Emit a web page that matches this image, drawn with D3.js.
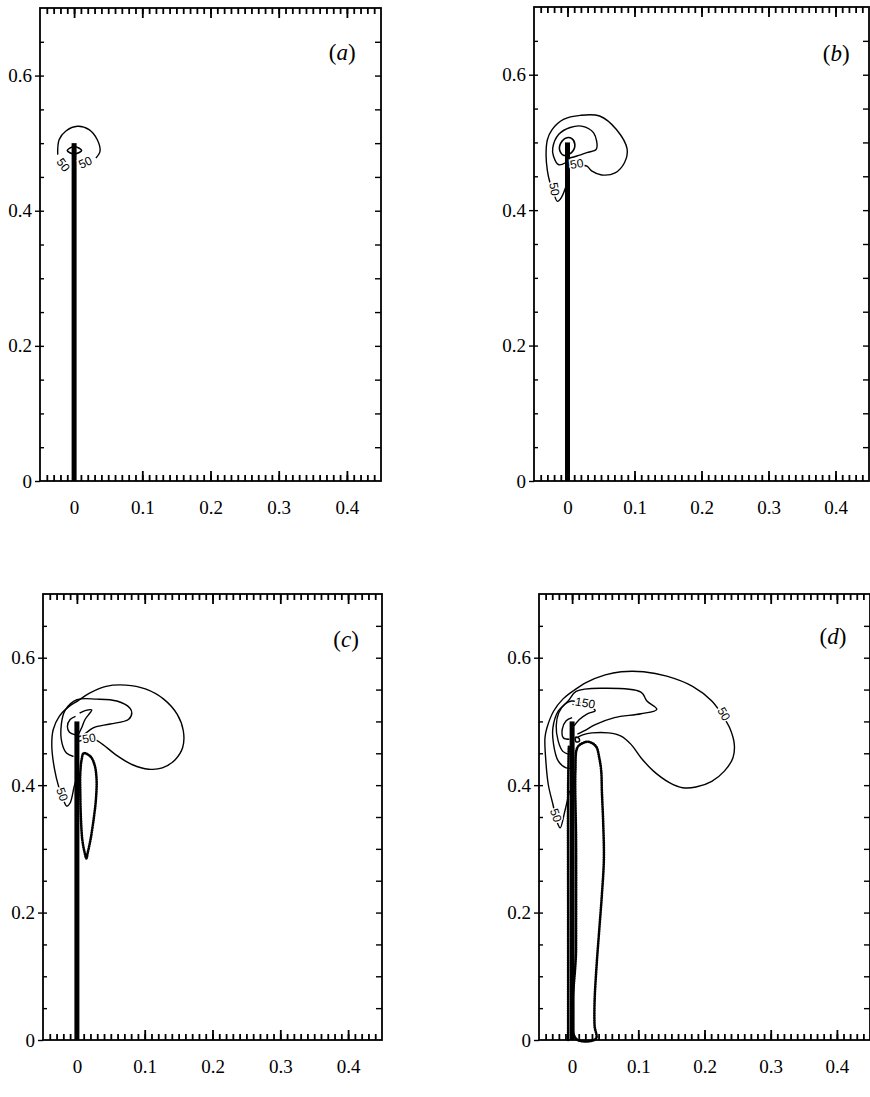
<!DOCTYPE html>
<html>
<head>
<meta charset="utf-8">
<script src="https://cdn.jsdelivr.net/npm/d3@7"></script>
<style>
  body { margin: 0; background: #fff; }
  svg { display: block; }
</style>
</head>
<body>
<script>
// axis ranges shared by all four panels
const xDomain = [-0.05, 0.45];
const yDomain = [0, 0.7];
const xMajorTicks = [0, 0.1, 0.2, 0.3, 0.4];
const yMajorTicks = [0, 0.2, 0.4, 0.6];
const panelIds = ["a", "b", "c", "d"];
const panelLetters = ["a", "b", "c", "d"];
// where the (a)..(d) tag sits, data coords
const panelTagPos = [[0.393, 0.631], [0.401, 0.627], [0.397, 0.624], [0.394, 0.630]];
// plate tip height for each panel
const plateTop = [0.5, 0.5, 0.5, 0.5];

// ---- panel (a) contours ----
const a_outer = [[-0.024, 0.483], [-0.022, 0.505], [-0.012, 0.518], [0.005, 0.525], [0.022, 0.520],
  [0.034, 0.505], [0.038, 0.488], [0.032, 0.478]];
const a_eye = [[-0.010, 0.489], [0, 0.495], [0.011, 0.489], [0, 0.484]];
const a_labels = [["50", -0.017, 0.467, 55], ["50", 0.017, 0.470, -25]];

// ---- panel (b) contours ----
const b_outer = [[-0.003, 0.433], [-0.009, 0.419], [-0.015, 0.413], [-0.020, 0.423], [-0.026, 0.440],
  [-0.030, 0.458], [-0.032, 0.482], [-0.030, 0.504], [-0.023, 0.519], [-0.006, 0.534], [0.019, 0.540],
  [0.048, 0.539], [0.073, 0.519], [0.089, 0.490], [0.085, 0.470], [0.071, 0.455], [0.051, 0.452],
  [0.036, 0.458], [0.029, 0.465], [0.014, 0.467], [0.003, 0.468]];
const b_middle = [[-0.003, 0.470], [-0.013, 0.467], [-0.021, 0.480], [-0.022, 0.492], [-0.013, 0.512],
  [0.004, 0.522], [0.021, 0.524], [0.039, 0.514], [0.043, 0.490], [0.029, 0.485], [0.014, 0.480],
  [0.003, 0.477]];
const b_inner = [[-0.001, 0.507], [-0.008, 0.502], [-0.012, 0.490], [-0.006, 0.481], [0.006, 0.485],
  [0.011, 0.497], [0.006, 0.506]];
const b_labels = [["50", 0.014, 0.467, -10], ["50", -0.021, 0.431, 80]];

// ---- panel (c) contours ----
const c_outer = [[0.003, 0.469], [0.025, 0.472], [0.038, 0.464], [0.057, 0.448], [0.082, 0.432],
  [0.106, 0.425], [0.126, 0.427], [0.145, 0.440], [0.156, 0.459], [0.157, 0.485], [0.148, 0.511],
  [0.128, 0.535], [0.101, 0.551], [0.072, 0.557], [0.043, 0.555], [0.018, 0.544], [0.001, 0.532],
  [-0.011, 0.524], [-0.026, 0.508], [-0.035, 0.487], [-0.037, 0.461], [-0.033, 0.425], [-0.027, 0.398],
  [-0.021, 0.380], [-0.015, 0.367], [-0.010, 0.372], [-0.004, 0.398], [-0.001, 0.409]];
const c_middle = [[-0.005, 0.445], [-0.015, 0.450], [-0.022, 0.466], [-0.023, 0.495], [-0.017, 0.518],
  [0.000, 0.534], [0.029, 0.535], [0.059, 0.532], [0.078, 0.521], [0.081, 0.513], [0.076, 0.503],
  [0.049, 0.496], [0.024, 0.490], [0.010, 0.479], [0.002, 0.476]];
const c_innerR = [[0.004, 0.513], [0.012, 0.517], [0.022, 0.518], [0.019, 0.513], [0.012, 0.503],
  [0.007, 0.490], [0.002, 0.479]];
const c_innerL = [[-0.002, 0.508], [-0.010, 0.503], [-0.014, 0.492], [-0.011, 0.483], [-0.002, 0.479]];
const c_neg = [[0.010, 0.450], [0.020, 0.445], [0.026, 0.432], [0.029, 0.409], [0.028, 0.377],
  [0.024, 0.341], [0.020, 0.314], [0.016, 0.294], [0.014, 0.285], [0.011, 0.296], [0.008, 0.314],
  [0.006, 0.346], [0.005, 0.388], [0.005, 0.419], [0.007, 0.440]];
const c_labels = [["50", 0.018, 0.472, -10], ["50", -0.023, 0.385, 70]];

// ---- panel (d) contours ----
const d_outer = [[-0.004, 0.391], [-0.011, 0.359], [-0.018, 0.333], [-0.023, 0.343], [-0.029, 0.370],
  [-0.036, 0.401], [-0.040, 0.443], [-0.041, 0.474], [-0.038, 0.490], [-0.028, 0.516], [-0.014, 0.535],
  [0.003, 0.549], [0.021, 0.561], [0.050, 0.573], [0.074, 0.578], [0.108, 0.578], [0.143, 0.571],
  [0.182, 0.555], [0.211, 0.532], [0.228, 0.508], [0.238, 0.490], [0.245, 0.464], [0.243, 0.443],
  [0.230, 0.422], [0.211, 0.406], [0.187, 0.397], [0.167, 0.396], [0.147, 0.404], [0.123, 0.422],
  [0.104, 0.443], [0.089, 0.464], [0.074, 0.477], [0.055, 0.482], [0.030, 0.482], [0.016, 0.479],
  [0.006, 0.474]];
const d_second = [[0.002, 0.427], [-0.009, 0.427], [-0.021, 0.438], [-0.028, 0.464], [-0.029, 0.490],
  [-0.021, 0.516], [-0.006, 0.532], [0.006, 0.547], [0.045, 0.552], [0.104, 0.546], [0.113, 0.532],
  [0.128, 0.519], [0.104, 0.512], [0.064, 0.506], [0.035, 0.495], [0.018, 0.485], [0.008, 0.480]];
const d_third = [[-0.004, 0.448], [-0.014, 0.453], [-0.021, 0.469], [-0.024, 0.493], [-0.020, 0.514],
  [-0.011, 0.527], [-0.001, 0.532], [0.008, 0.531], [0.025, 0.524], [0.035, 0.517], [0.023, 0.512],
  [0.011, 0.503], [0.003, 0.493]];
const d_fourth = [[0.000, 0.506], [-0.009, 0.501], [-0.015, 0.487], [-0.013, 0.474], [-0.004, 0.472]];
const d_eye = [[0.005, 0.475], [0.010, 0.474], [0.011, 0.469], [0.006, 0.468]];
const d_neg = [[0.016, 0.466], [0.025, 0.468], [0.036, 0.461], [0.041, 0.443], [0.044, 0.422],
  [0.045, 0.390], [0.047, 0.340], [0.048, 0.284], [0.045, 0.228], [0.041, 0.173], [0.037, 0.117],
  [0.034, 0.061], [0.034, 0.022], [0.036, 0.002], [0.006, 0.002], [0.006, 0.145], [0.006, 0.312],
  [0.005, 0.422], [0.008, 0.459]];
const d_negLeft = [[-0.006, 0.0], [-0.006, 0.2], [-0.006, 0.4], [-0.005, 0.46]];
const d_labels = [["50", 0.228, 0.511, 60], ["50", -0.026, 0.352, 70], [".150", 0.017, 0.528, 10]];

// which lines go where
const solidOpen = { a: [a_outer], b: [b_outer, b_middle], c: [c_outer, c_middle, c_innerR, c_innerL],
  d: [d_outer, d_second, d_third, d_fourth] };
const solidClosed = { a: [a_eye], b: [b_inner], c: [], d: [d_eye] };
const dottedClosed = { a: [], b: [], c: [c_neg], d: [d_neg] };
const dottedOpen = { a: [], b: [], c: [], d: [d_negLeft] };
const contourLabels = { a: a_labels, b: b_labels, c: c_labels, d: d_labels };

// pixel boxes of the four frames
const boxes = {
  a: { left: 40, right: 381, top: 8, bottom: 481 },
  b: { left: 534, right: 869, top: 7, bottom: 481 },
  c: { left: 43, right: 382, top: 594, bottom: 1040 },
  d: { left: 539, right: 870, top: 594, bottom: 1040 }
};

const svg = d3.select("body").append("svg")
  .attr("width", 870)
  .attr("height", 1097);

const serif = "'Liberation Serif', 'DejaVu Serif', serif";

// draws a tick-only axis (no domain line) and colours its ticks black
function tickAxis(g, axis, width, withText) {
  g.call(axis);
  g.select(".domain").remove();
  g.selectAll(".tick line")
    .attr("stroke", "#000")
    .attr("stroke-width", width);
  if (withText) {
    g.attr("font-family", serif).attr("font-size", 19);
    g.selectAll(".tick text").attr("fill", "#000");
  }
}

panelIds.forEach((id, i) => {
  const box = boxes[id];
  const x = d3.scaleLinear().domain(xDomain).range([box.left, box.right]);
  const y = d3.scaleLinear().domain(yDomain).range([box.bottom, box.top]);
  const g = svg.append("g");

  const minorX = d3.range(-4, 45).map(k => k / 100);
  const minorY = d3.range(1, 14).map(k => k / 20);
  const fmt = d => d === 0 ? "0" : d3.format(".1f")(d);

  // top axis ticks (inward)
  g.append("g").attr("transform", `translate(0,${box.top})`)
    .call(tickAxis, d3.axisTop(x).tickValues(minorX).tickSize(-6).tickFormat(""), 1.8);
  g.append("g").attr("transform", `translate(0,${box.top})`)
    .call(tickAxis, d3.axisTop(x).tickValues(xMajorTicks).tickSize(-10).tickFormat(""), 1.8);

  // bottom axis ticks + labels
  g.append("g").attr("transform", `translate(0,${box.bottom})`)
    .call(tickAxis, d3.axisBottom(x).tickValues(minorX).tickSize(-6).tickFormat(""), 1.8);
  g.append("g").attr("transform", `translate(0,${box.bottom})`)
    .call(tickAxis, d3.axisBottom(x).tickValues(xMajorTicks).tickSize(-10).tickPadding(20).tickFormat(fmt), 1.8, true);

  // left axis
  g.append("g").attr("transform", `translate(${box.left},0)`)
    .call(tickAxis, d3.axisLeft(y).tickValues(minorY).tickSize(-4).tickFormat(""), 1.4);
  g.append("g").attr("transform", `translate(${box.left},0)`)
    .call(tickAxis, d3.axisLeft(y).tickValues(yMajorTicks).tickSize(5).tickPadding(3).tickFormat(fmt), 1.4, true);

  // right axis (inward ticks)
  g.append("g").attr("transform", `translate(${box.right},0)`)
    .call(tickAxis, d3.axisRight(y).tickValues(minorY).tickSize(-6).tickFormat(""), 1.4);

  // frame
  g.append("rect")
    .attr("x", box.left).attr("y", box.top)
    .attr("width", box.right - box.left).attr("height", box.bottom - box.top)
    .attr("fill", "none").attr("stroke", "#000").attr("stroke-width", 1.8);

  // panel tag
  const tag = g.append("text")
    .attr("x", x(panelTagPos[i][0])).attr("y", y(panelTagPos[i][1]))
    .attr("text-anchor", "middle").attr("dominant-baseline", "middle")
    .attr("font-family", serif).attr("font-size", 23);
  tag.append("tspan").text("(");
  tag.append("tspan").attr("font-style", "italic").text(panelLetters[i]);
  tag.append("tspan").text(")");

  const lineOpen = d3.line().x(d => x(d[0])).y(d => y(d[1])).curve(d3.curveCatmullRom.alpha(0.5));
  const lineClosed = d3.line().x(d => x(d[0])).y(d => y(d[1])).curve(d3.curveCatmullRomClosed.alpha(0.5));

  // dotted (negative) contours
  g.selectAll(null).data(dottedClosed[id]).join("path")
    .attr("d", lineClosed)
    .attr("fill", "none").attr("stroke", "#000").attr("stroke-width", 2.6)
    .attr("stroke-dasharray", "0.8 1.6").attr("stroke-linecap", "round");
  g.selectAll(null).data(dottedOpen[id]).join("path")
    .attr("d", lineOpen)
    .attr("fill", "none").attr("stroke", "#000").attr("stroke-width", 2.6)
    .attr("stroke-dasharray", "0.8 1.6").attr("stroke-linecap", "round");

  // plate
  g.append("rect")
    .attr("x", x(0) - 2.5).attr("y", y(plateTop[i]))
    .attr("width", 5).attr("height", y(0) - y(plateTop[i]))
    .attr("fill", "#000");

  // solid contours
  g.selectAll(null).data(solidOpen[id]).join("path")
    .attr("d", lineOpen)
    .attr("fill", "none").attr("stroke", "#000").attr("stroke-width", 1.4);
  g.selectAll(null).data(solidClosed[id]).join("path")
    .attr("d", lineClosed)
    .attr("fill", "none").attr("stroke", "#000").attr("stroke-width", 1.6);

  // contour labels, knocking the line out behind them
  g.selectAll(null).data(contourLabels[id]).join("text")
    .attr("transform", d => `translate(${x(d[1])},${y(d[2])}) rotate(${d[3]})`)
    .attr("text-anchor", "middle").attr("dominant-baseline", "middle")
    .attr("font-family", "'Liberation Sans', Arial, sans-serif").attr("font-size", 12)
    .attr("stroke", "#fff").attr("stroke-width", 3).attr("paint-order", "stroke")
    .attr("fill", "#000")
    .text(d => d[0]);
});
</script>
</body>
</html>
